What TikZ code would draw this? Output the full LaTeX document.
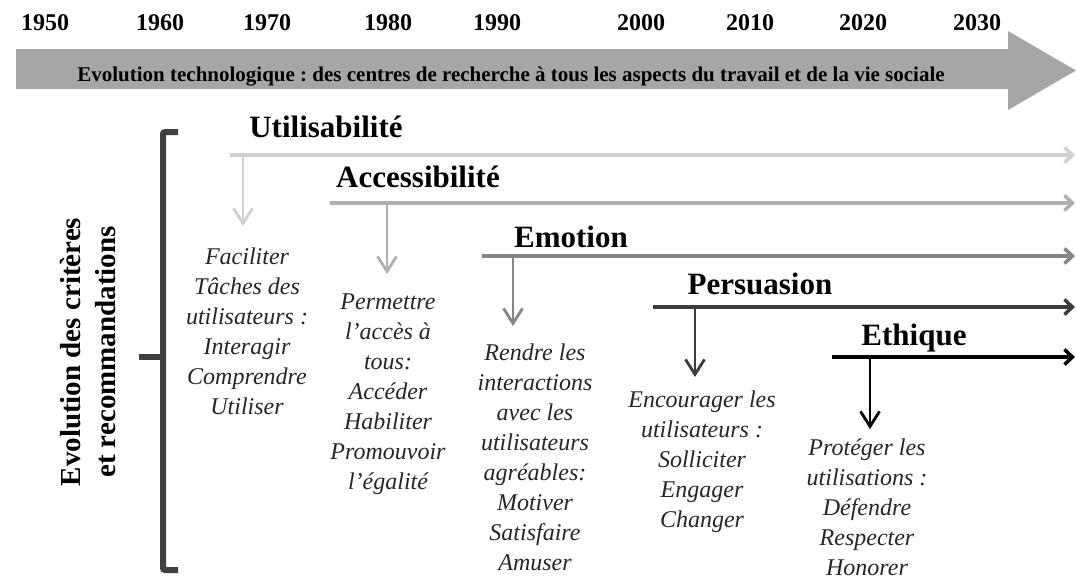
\documentclass[tikz,border=0pt]{standalone}
\usepackage{fontspec}
\setmainfont{Liberation Serif}
\usetikzlibrary{arrows.meta}
\frenchspacing
\definecolor{bannergray}{HTML}{A6A6A6}
\definecolor{bracketgray}{HTML}{404040}
\definecolor{cUtil}{HTML}{D0D0D0}
\definecolor{cAcc}{HTML}{B0B0B0}
\definecolor{cEmo}{HTML}{858585}
\definecolor{cPers}{HTML}{3C3C3C}
\definecolor{cEth}{HTML}{000000}
\definecolor{desctext}{HTML}{262626}
\tikzset{
  year/.style={font=\bfseries\fontsize{24}{28}\selectfont, anchor=base, inner sep=0},
  crit/.style={font=\bfseries\fontsize{31}{36}\selectfont, anchor=base, inner sep=0},
  desc/.style={font=\itshape\fontsize{24}{30}\selectfont, align=center, anchor=north,
    inner sep=0, text=desctext},
  timeline/.style={line width=3.5pt, -{Straight Barb[length=8pt,width=15pt]}},
  drop/.style={line width=2.8pt, -{Straight Barb[length=15pt,width=19pt]}},
}
\begin{document}
\begin{tikzpicture}[x=1pt,y=-1pt]
\useasboundingbox (0,0) rectangle (1076,579);

% decades
\foreach \yr/\xx in {1950/45,1960/160,1970/267,1980/388,1990/497,2000/641,2010/750,2020/863,2030/977}
  \node[year] (y\yr) at (\xx,30) {\yr};

% technology banner
\fill[bannergray] (16,49) -- (1008,49) -- (1008,31) -- (1076,70.5) -- (1008,110) -- (1008,89) -- (16,89) -- cycle;
\node[font=\bfseries\fontsize{21}{24}\selectfont, anchor=base, inner sep=0] (banner) at (511,81)
  {Evolution technologique : des centres de recherche à tous les aspects du travail et de la vie sociale};

% bracket and side label
\draw[bracketgray, line width=6pt, rounded corners=2pt] (178,132) -- (163,132) -- (163,570) -- (178,570);
\draw[bracketgray, line width=6pt] (163,357) -- (139,357);
\node[font=\bfseries\fontsize{29}{35}\selectfont, align=center, rotate=90, inner sep=0] (side) at (88,352)
  {Evolution des critères\\et recommandations};

% criteria titles
\node[crit] (util) at (326,137) {Utilisabilité};
\node[crit] (acc)  at (418,187) {Accessibilité};
\node[crit] (emo)  at (571,247) {Emotion};
\node[crit] (pers) at (760,294) {Persuasion};
\node[crit] (eth)  at (914,345) {Ethique};

% timeline coordinates
\coordinate (uS) at (230,155); \coordinate (uE) at (1075,155);
\coordinate (aS) at (330,203); \coordinate (aE) at (1075,203);
\coordinate (eS) at (482,256); \coordinate (eE) at (1075,256);
\coordinate (pS) at (653,307); \coordinate (pE) at (1075,307);
\coordinate (hS) at (832,357); \coordinate (hE) at (1075,357);

\coordinate (uD) at (243,155); \coordinate (uT) at (243,226);
\coordinate (aD) at (387,203); \coordinate (aT) at (387,274);
\coordinate (eD) at (513,256); \coordinate (eT) at (513,326);
\coordinate (pD) at (695,307); \coordinate (pT) at (695,377);
\coordinate (hD) at (870,357); \coordinate (hT) at (870,429);

\draw[timeline, cUtil] (uS) -- (uE);
\draw[timeline, cAcc]  (aS) -- (aE);
\draw[timeline, cEmo]  (eS) -- (eE);
\draw[timeline, cPers] (pS) -- (pE);
\draw[timeline, cEth]  (hS) -- (hE);

\draw[drop, cUtil] (uD) -- (uT);
\draw[drop, cAcc]  (aD) -- (aT);
\draw[drop, cEmo]  (eD) -- (eT);
\draw[drop, cPers] (pD) -- (pT);
\draw[drop, cEth]  (hD) -- (hT);

% descriptions
\node[desc] (d1) at (247,248) {Faciliter\\Tâches des\\utilisateurs :\\Interagir\\Comprendre\\Utiliser};
\node[desc] (d2) at (388,294) {Permettre\\l’accès à\\tous:\\Accéder\\Habiliter\\Promouvoir\\l’égalité};
\node[desc] (d3) at (535,344) {Rendre les\\interactions\\avec les\\utilisateurs\\agréables:\\Motiver\\Satisfaire\\Amuser};
\node[desc] (d4) at (702,391) {Encourager les\\utilisateurs :\\Solliciter\\Engager\\Changer};
\node[desc] (d5) at (867,439) {Protéger les\\utilisations :\\Défendre\\Respecter\\Honorer};
\end{tikzpicture}
\end{document}
